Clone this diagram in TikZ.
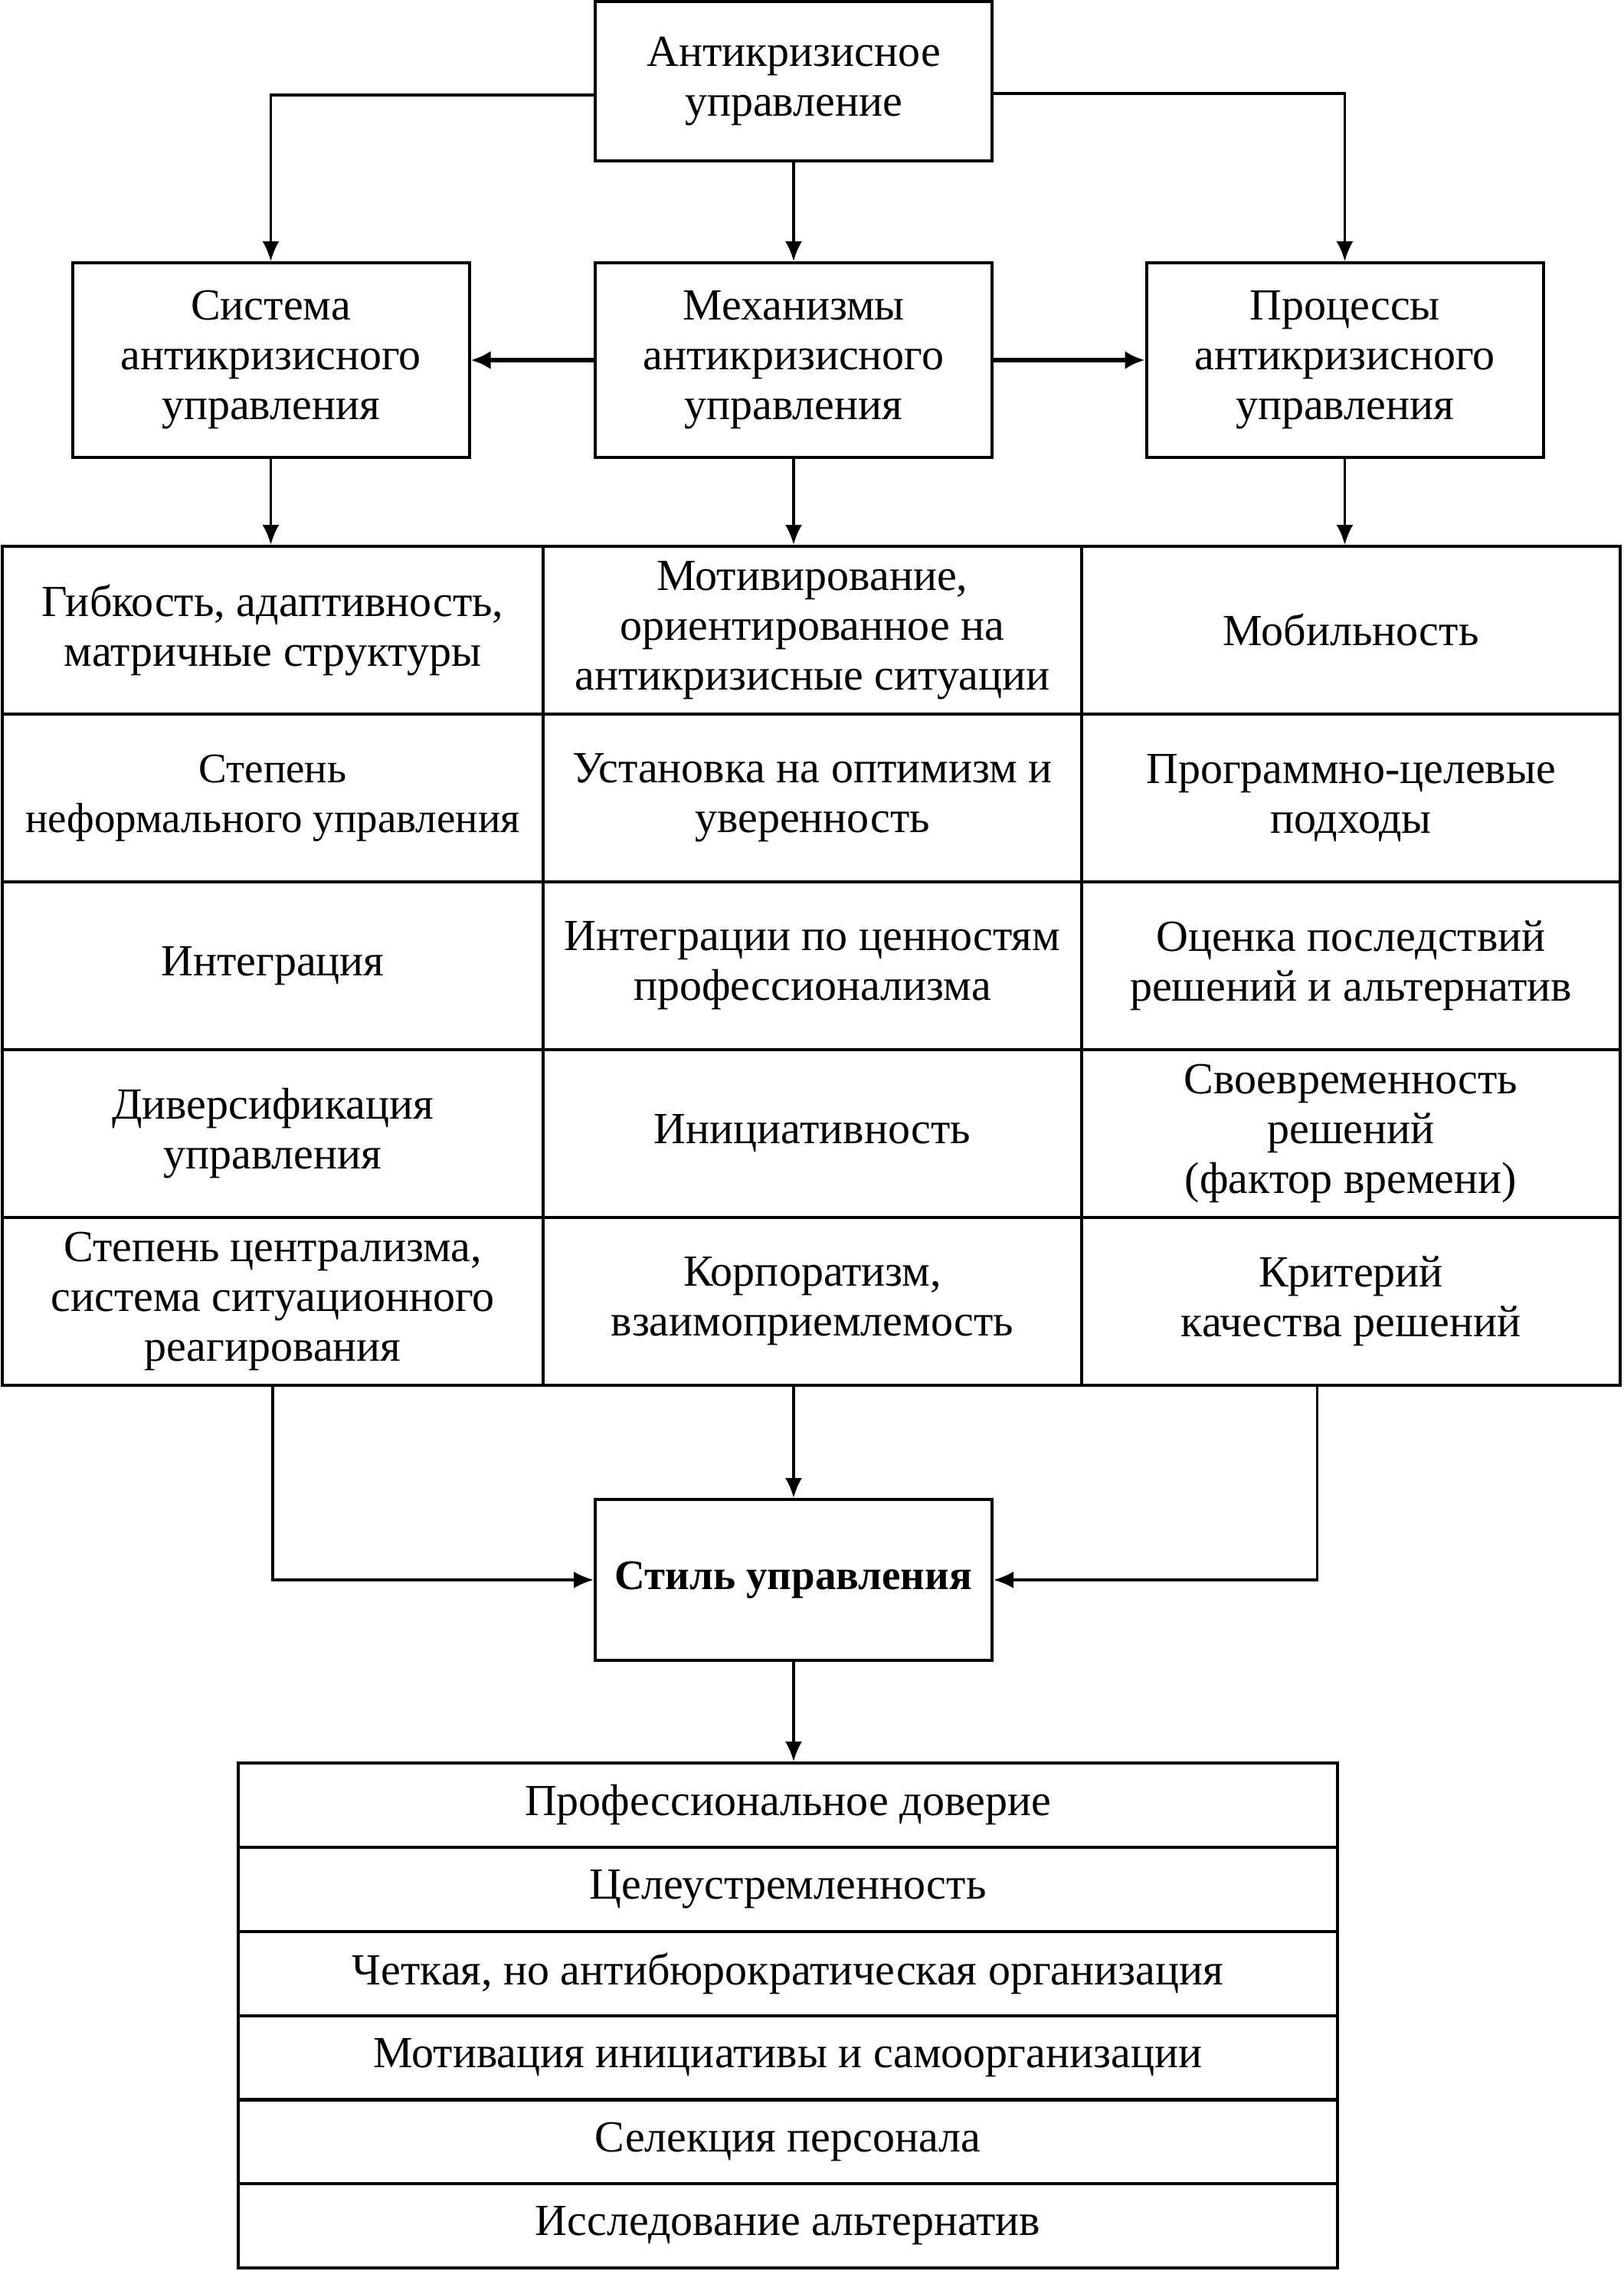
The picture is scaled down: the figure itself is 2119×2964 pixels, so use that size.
\documentclass[tikz,border=0pt]{standalone}
\usepackage{fontspec}
\setmainfont{Liberation Serif}
\usetikzlibrary{arrows.meta}
\begin{document}
\begin{tikzpicture}[x=0.5pt,y=-0.5pt,
 box/.style={draw, line width=2pt, align=center, inner sep=0pt, font=\fontsize{29}{32.5}\selectfont},
 topbox/.style={box, minimum width=259pt, minimum height=104pt},
 cellA/.style={box, minimum width=353pt, minimum height=109.5pt},
 cellB/.style={box, minimum width=351.5pt, minimum height=109.5pt},
 listbox/.style={box, minimum width=717.5pt, minimum height=55pt},
 arr/.style={line width=1.6pt, -{Latex[length=13pt,width=11pt]}},
 thickarr/.style={line width=2.8pt, -{Latex[length=13pt,width=12pt]}}]
\useasboundingbox (0,0) rectangle (2119,2964);
% top
\node[topbox] (top) at (1036,106) {Антикризисное\\управление};
\node[topbox, minimum height=127pt] (sys) at (353.5,470) {Система\\антикризисного\\управления};
\node[topbox, minimum height=127pt] (mech) at (1036,470) {Механизмы\\антикризисного\\управления};
\node[topbox, minimum height=127pt] (proc) at (1755.5,470) {Процессы\\антикризисного\\управления};
% grid
\node[cellA] (c11) at (356,822.5) {Гибкость, адаптивность,\\матричные структуры};
\node[cellB] (c12) at (1060.5,822.5) {Мотивирование,\\ориентированное на\\антикризисные ситуации};
\node[cellB] (c13) at (1763.5,822.5) {Мобильность};
\node[cellA, font=\fontsize{27.5}{32.5}\selectfont] (c21) at (356,1041.5) {Степень\\неформального управления};
\node[cellB] (c22) at (1060.5,1041.5) {Установка на оптимизм и\\уверенность};
\node[cellB] (c23) at (1763.5,1041.5) {Программно-целевые\\подходы};
\node[cellA] (c31) at (356,1260.5) {Интеграция};
\node[cellB] (c32) at (1060.5,1260.5) {Интеграции по ценностям\\профессионализма};
\node[cellB] (c33) at (1763.5,1260.5) {Оценка последствий\\решений и альтернатив};
\node[cellA] (c41) at (356,1479.5) {Диверсификация\\управления};
\node[cellB] (c42) at (1060.5,1479.5) {Инициативность};
\node[cellB] (c43) at (1763.5,1479.5) {Своевременность\\решений\\(фактор времени)};
\node[cellA] (c51) at (356,1698.5) {Степень централизма,\\система ситуационного\\реагирования};
\node[cellB] (c52) at (1060.5,1698.5) {Корпоратизм,\\взаимоприемлемость};
\node[cellB] (c53) at (1763.5,1698.5) {Критерий\\качества решений};
% style
\node[topbox, minimum height=105pt, font=\fontsize{27.5}{32.5}\selectfont\bfseries] (style) at (1036,2062) {Стиль управления};
% list
\node[listbox] (l1) at (1028.5,2356) {Профессиональное доверие};
\node[listbox] (l2) at (1028.5,2466) {Целеустремленность};
\node[listbox] (l3) at (1028.5,2576) {Четкая, но антибюрократическая организация};
\node[listbox] (l4) at (1028.5,2686) {Мотивация инициативы и самоорганизации};
\node[listbox] (l5) at (1028.5,2795) {Селекция персонала};
\node[listbox] (l6) at (1028.5,2905) {Исследование альтернатив};
% connectors
\draw[arr] ([yshift=-9pt]top.west) -| (sys.north);
\draw[arr] (top.south) -- (mech.north);
\draw[arr] ([yshift=-8pt]top.east) -| (proc.north);
\draw[thickarr] (mech.west) -- (sys.east);
\draw[thickarr] (mech.east) -- (proc.west);
\draw[arr] (sys.south) -- (sys.south |- c11.north);
\draw[arr] (mech.south) -- (mech.south |- c12.north);
\draw[arr] (proc.south) -- (proc.south |- c13.north);
\draw[arr] (c52.south -| style.north) -- (style.north);
\draw[arr] (c51.south) |- (style.west);
\draw[arr] ([xshift=-22pt]c53.south) |- (style.east);
\draw[arr] (style.south) -- (style.south |- l1.north);
\end{tikzpicture}
\end{document}
